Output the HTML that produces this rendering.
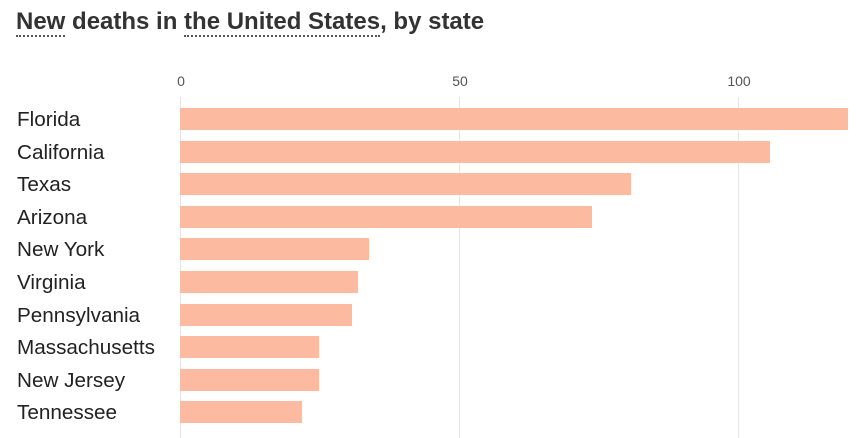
<!DOCTYPE html>
<html><head><style>
body{margin:0;width:864px;height:438px;background:#fff;font-family:"Liberation Sans",Arial,sans-serif;position:relative;overflow:hidden}
.t{position:absolute;left:16px;top:8px;font-size:24px;font-weight:bold;color:#333;white-space:nowrap}
.u{border-bottom:2px dotted #555;padding-bottom:0px}
.tick{position:absolute;top:73px;font-size:14px;color:#555;transform:translateX(-50%)}
.g{position:absolute;top:97px;height:341px;width:1px;background:#e6e6e6}
.l{position:absolute;left:17px;font-size:20.7px;color:#222;line-height:22px}
.b{position:absolute;left:180px;height:22px;background:#fcbba1}
</style></head><body>
<div class="t"><span class="u">New</span> deaths in <span class="u">the United States</span>, by state</div>
<div class="g" style="left:180px"></div><div class="g" style="left:459px"></div><div class="g" style="left:738px"></div>
<div class="tick" style="left:181px">0</div><div class="tick" style="left:460px">50</div><div class="tick" style="left:739px">100</div>
<div class="l" style="top:109px">Florida</div><div class="b" style="top:108px;width:668px"></div>
<div class="l" style="top:142px">California</div><div class="b" style="top:141px;width:590px"></div>
<div class="l" style="top:174px">Texas</div><div class="b" style="top:173px;width:451px"></div>
<div class="l" style="top:207px">Arizona</div><div class="b" style="top:206px;width:412px"></div>
<div class="l" style="top:239px">New York</div><div class="b" style="top:238px;width:189px"></div>
<div class="l" style="top:272px">Virginia</div><div class="b" style="top:271px;width:178px"></div>
<div class="l" style="top:305px">Pennsylvania</div><div class="b" style="top:304px;width:172px"></div>
<div class="l" style="top:337px">Massachusetts</div><div class="b" style="top:336px;width:139px"></div>
<div class="l" style="top:370px">New Jersey</div><div class="b" style="top:369px;width:139px"></div>
<div class="l" style="top:402px">Tennessee</div><div class="b" style="top:401px;width:122px"></div>
</body></html>
